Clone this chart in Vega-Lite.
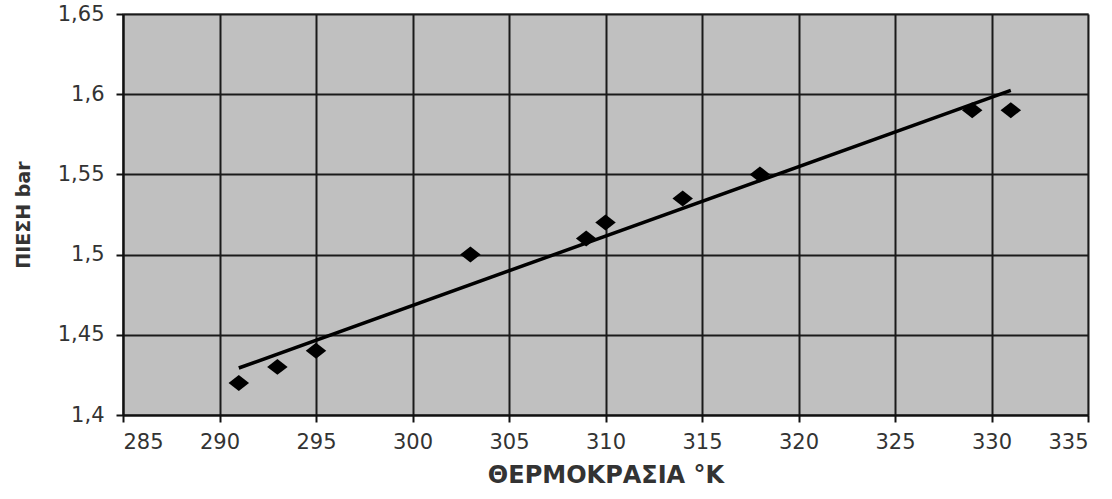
{
  "$schema": "https://vega.github.io/schema/vega-lite/v6.json",
  "width": 965,
  "height": 401,
  "autosize": "none",
  "padding": {"left": 123, "top": 14, "right": 24, "bottom": 84},
  "background": "white",
  "config": {
    "font": "DejaVu Sans",
    "view": {"fill": "#c0c0c0", "stroke": "#8a8a8a", "strokeWidth": 1.5}
  },
  "datasets": {
    "points": [
      {"T": 291, "P": 1.42},
      {"T": 293, "P": 1.43},
      {"T": 295, "P": 1.44},
      {"T": 303, "P": 1.5},
      {"T": 309, "P": 1.51},
      {"T": 310, "P": 1.52},
      {"T": 314, "P": 1.535},
      {"T": 318, "P": 1.55},
      {"T": 329, "P": 1.59},
      {"T": 331, "P": 1.59}
    ],
    "trend": [
      {"T": 291, "P": 1.4293},
      {"T": 331, "P": 1.6024}
    ]
  },
  "layer": [
    {
      "data": {"name": "trend"},
      "mark": {"type": "line", "color": "black", "strokeWidth": 3.5},
      "encoding": {
        "x": {"field": "T", "type": "quantitative"},
        "y": {"field": "P", "type": "quantitative"}
      }
    },
    {
      "data": {"name": "points"},
      "mark": {"type": "point", "shape": "M-1,0L0,-0.78L1,0L0,0.78Z", "filled": true, "color": "black", "opacity": 1, "size": 420},
      "encoding": {
        "x": {
          "field": "T", "type": "quantitative",
          "scale": {"domain": [285, 335], "nice": false, "zero": false},
          "axis": {
            "title": "ΘΕΡΜΟΚΡΑΣΙΑ °K",
            "values": [285, 290, 295, 300, 305, 310, 315, 320, 325, 330, 335],
            "grid": true, "gridColor": "#1a1a1a", "gridWidth": 2, "gridOpacity": 1,
            "domainColor": "#111", "domainWidth": 2,
            "tickColor": "#111", "tickWidth": 2, "tickSize": 7,
            "labelFontSize": 21, "labelColor": "#333", "labelPadding": 9,
            "titleFontSize": 24, "titleFontWeight": "bold", "titleColor": "#333", "titlePadding": 11
          }
        },
        "y": {
          "field": "P", "type": "quantitative",
          "scale": {"domain": [1.4, 1.65], "nice": false, "zero": false},
          "axis": {
            "title": "ΠΙΕΣΗ bar",
            "values": [1.4, 1.45, 1.5, 1.55, 1.6, 1.65],
            "labelExpr": "replace(format(datum.value, '~g'), '.', ',')",
            "grid": true, "gridColor": "#1a1a1a", "gridWidth": 2, "gridOpacity": 1,
            "domainColor": "#111", "domainWidth": 2,
            "tickColor": "#111", "tickWidth": 2, "tickSize": 7,
            "labelFontSize": 21, "labelColor": "#333", "labelPadding": 12,
            "titleFontSize": 19, "titleFontWeight": "bold", "titleColor": "#333", "titlePadding": 24
          }
        }
      }
    }
  ]
}
